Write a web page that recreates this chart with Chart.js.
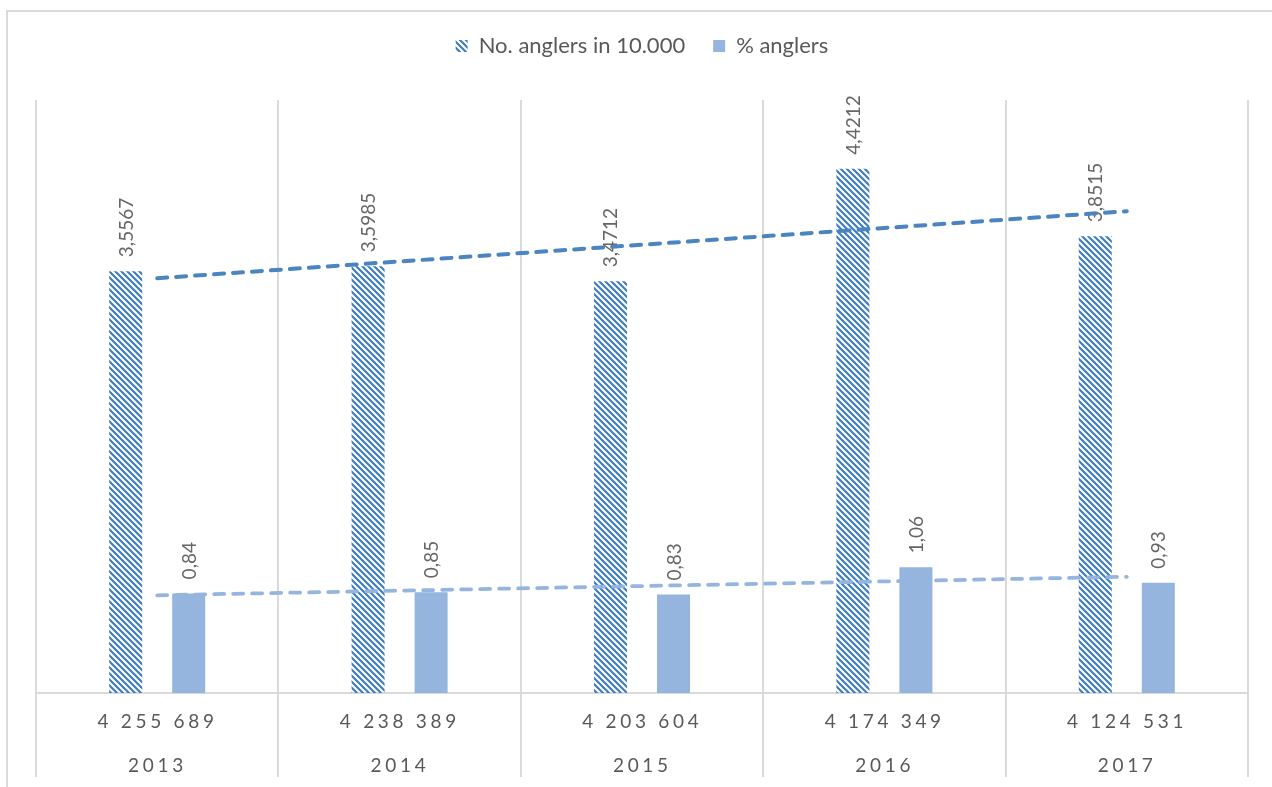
<!DOCTYPE html>
<html>
<head>
<meta charset="utf-8">
<title>Anglers 2013–2017</title>
<script src="https://cdn.jsdelivr.net/npm/chart.js@4.4.1/dist/chart.umd.min.js"></script>
<style>
  html, body { margin: 0; padding: 0; background: #ffffff; }
  #wrap { position: relative; width: 1272px; height: 787px; overflow: hidden; }
  canvas { display: block; }
</style>
</head>
<body>
<div id="wrap"><canvas id="chart" width="1272" height="787"></canvas></div>
<script>
// ---- data ----
const years = ['2013', '2014', '2015', '2016', '2017'];
const populationLabels = ['4 255 689', '4 238 389', '4 203 604', '4 174 349', '4 124 531'];
const anglersPer10000 = [3.5567, 3.5985, 3.4712, 4.4212, 3.8515];
const anglersPercent = [0.84, 0.85, 0.83, 1.06, 0.93];
const seriesNames = ['No. anglers in 10.000', '% anglers'];

// ---- styling ----
const hatchBlue = '#3d7cc1';
const trendDark = '#4a85c1';
const lightBlue = '#95b5df';
const gridGrey = '#dadada';
const textGrey = '#595959';
const labelGrey = '#666666';
const FONT = 'Lato';

// least-squares linear trend evaluated at each category
function linearTrend(values) {
  const n = values.length;
  let sx = 0, sy = 0, sxy = 0, sxx = 0;
  values.forEach((v, i) => {
    const x = i + 1;
    sx += x; sy += v; sxy += x * v; sxx += x * x;
  });
  const slope = (n * sxy - sx * sy) / (n * sxx - sx * sx);
  const icept = (sy - slope * sx) / n;
  return values.map((_, i) => icept + slope * (i + 1));
}

// diagonal "\\" hatch fill
function makeHatch(color) {
  const s = 6;
  const c = document.createElement('canvas');
  c.width = s; c.height = s;
  const g = c.getContext('2d');
  g.strokeStyle = color;
  g.lineWidth = 2.1;
  g.beginPath();
  g.moveTo(-1, -1); g.lineTo(s + 1, s + 1);
  g.moveTo(-1, s - 1); g.lineTo(1, s + 1);
  g.moveTo(s - 1, -1); g.lineTo(s + 1, 1);
  g.stroke();
  return g.createPattern(c, 'repeat');
}

const fmt = v => String(v).replace('.', ',');

// centred text with extra tracking between characters
function drawTracked(ctx, text, cx, y, tracking) {
  const chars = Array.from(text);
  const widths = chars.map(ch => ctx.measureText(ch).width);
  const total = widths.reduce((a, b) => a + b, 0) + tracking * (chars.length - 1);
  let x = cx - total / 2;
  ctx.textAlign = 'left';
  chars.forEach((ch, i) => {
    ctx.fillText(ch, x, y);
    x += widths[i] + tracking;
  });
}

const PLOT_TOP = 100;
const PAD_TOP = 7;

// outer chart frame
const chartFrame = {
  id: 'chartFrame',
  beforeDraw(chart) {
    const ctx = chart.ctx;
    ctx.save();
    ctx.strokeStyle = gridGrey;
    ctx.lineWidth = 2;
    ctx.strokeRect(7, 11, 1400, 900);
    ctx.restore();
  }
};

// legend occupies the band above the plot area
const legendBand = {
  id: 'legendBand',
  beforeInit(chart) {
    const origFit = chart.legend.fit;
    chart.legend.fit = function () {
      origFit.call(this);
      this.height = PLOT_TOP - PAD_TOP;
    };
  }
};

// rotated value labels at the end of each bar
const barValueLabels = {
  id: 'barValueLabels',
  afterDatasetDraw(chart, args) {
    const ds = chart.data.datasets[args.index];
    if (ds.type !== 'bar') return;
    const ctx = chart.ctx;
    ctx.save();
    ctx.fillStyle = labelGrey;
    ctx.font = '19px ' + FONT;
    ctx.textAlign = 'left';
    ctx.textBaseline = 'alphabetic';
    args.meta.data.forEach((el, i) => {
      ctx.save();
      ctx.translate(el.x + 7, el.y - 14);
      ctx.rotate(-Math.PI / 2);
      ctx.fillText(fmt(ds.data[i]), 0, 0);
      ctx.restore();
    });
    ctx.restore();
  }
};

// two-row category labels: population, then year
const categoryRows = {
  id: 'categoryRows',
  afterDraw(chart) {
    const xs = chart.scales.x;
    const ctx = chart.ctx;
    ctx.save();
    ctx.fillStyle = textGrey;
    ctx.font = '19px ' + FONT;
    ctx.textBaseline = 'alphabetic';
    years.forEach((yr, i) => {
      const x = xs.getPixelForValue(i) - 1.5;
      drawTracked(ctx, populationLabels[i], x, xs.top + 35, 3.7);
      drawTracked(ctx, yr, x, xs.top + 79, 3.7);
    });
    ctx.restore();
  }
};

const hatch = makeHatch(hatchBlue);

new Chart(document.getElementById('chart'), {
  type: 'bar',
  data: {
    labels: years,
    datasets: [
      {
        type: 'bar',
        label: seriesNames[0],
        data: anglersPer10000,
        backgroundColor: hatch,
        borderWidth: 0,
        categoryPercentage: 0.52,
        barPercentage: 0.524,
        order: 1
      },
      {
        type: 'bar',
        label: seriesNames[1],
        data: anglersPercent,
        backgroundColor: lightBlue,
        borderWidth: 0,
        categoryPercentage: 0.52,
        barPercentage: 0.524,
        order: 1
      },
      {
        type: 'line',
        label: 'trend ' + seriesNames[0],
        isTrend: true,
        data: linearTrend(anglersPer10000),
        borderColor: trendDark,
        borderWidth: 4,
        borderDash: [10, 9],
        borderCapStyle: 'round',
        pointRadius: 0,
        tension: 0,
        fill: false,
        order: 0
      },
      {
        type: 'line',
        label: 'trend ' + seriesNames[1],
        isTrend: true,
        data: linearTrend(anglersPercent),
        borderColor: lightBlue,
        borderWidth: 3.75,
        borderDash: [10, 9],
        borderCapStyle: 'round',
        pointRadius: 0,
        tension: 0,
        fill: false,
        order: 0
      }
    ]
  },
  options: {
    responsive: false,
    animation: false,
    events: [],
    layout: { padding: { left: 36, right: 24, top: PAD_TOP, bottom: 10 } },
    scales: {
      x: {
        offset: true,
        grid: {
          display: true,
          offset: true,
          color: gridGrey,
          lineWidth: 2,
          drawTicks: true,
          tickLength: 84,
          tickColor: gridGrey,
          tickWidth: 2
        },
        border: { display: true, color: gridGrey, width: 2 },
        ticks: { display: false }
      },
      y: {
        display: false,
        min: 0,
        max: 5
      }
    },
    plugins: {
      tooltip: { enabled: false },
      legend: {
        display: true,
        position: 'top',
        labels: {
          boxWidth: 12,
          boxHeight: 12,
          padding: 28,
          color: textGrey,
          font: { family: FONT, size: 22 },
          filter: (item, data) => !data.datasets[item.datasetIndex].isTrend
        }
      }
    }
  },
  plugins: [chartFrame, legendBand, barValueLabels, categoryRows]
});
</script>
</body>
</html>
